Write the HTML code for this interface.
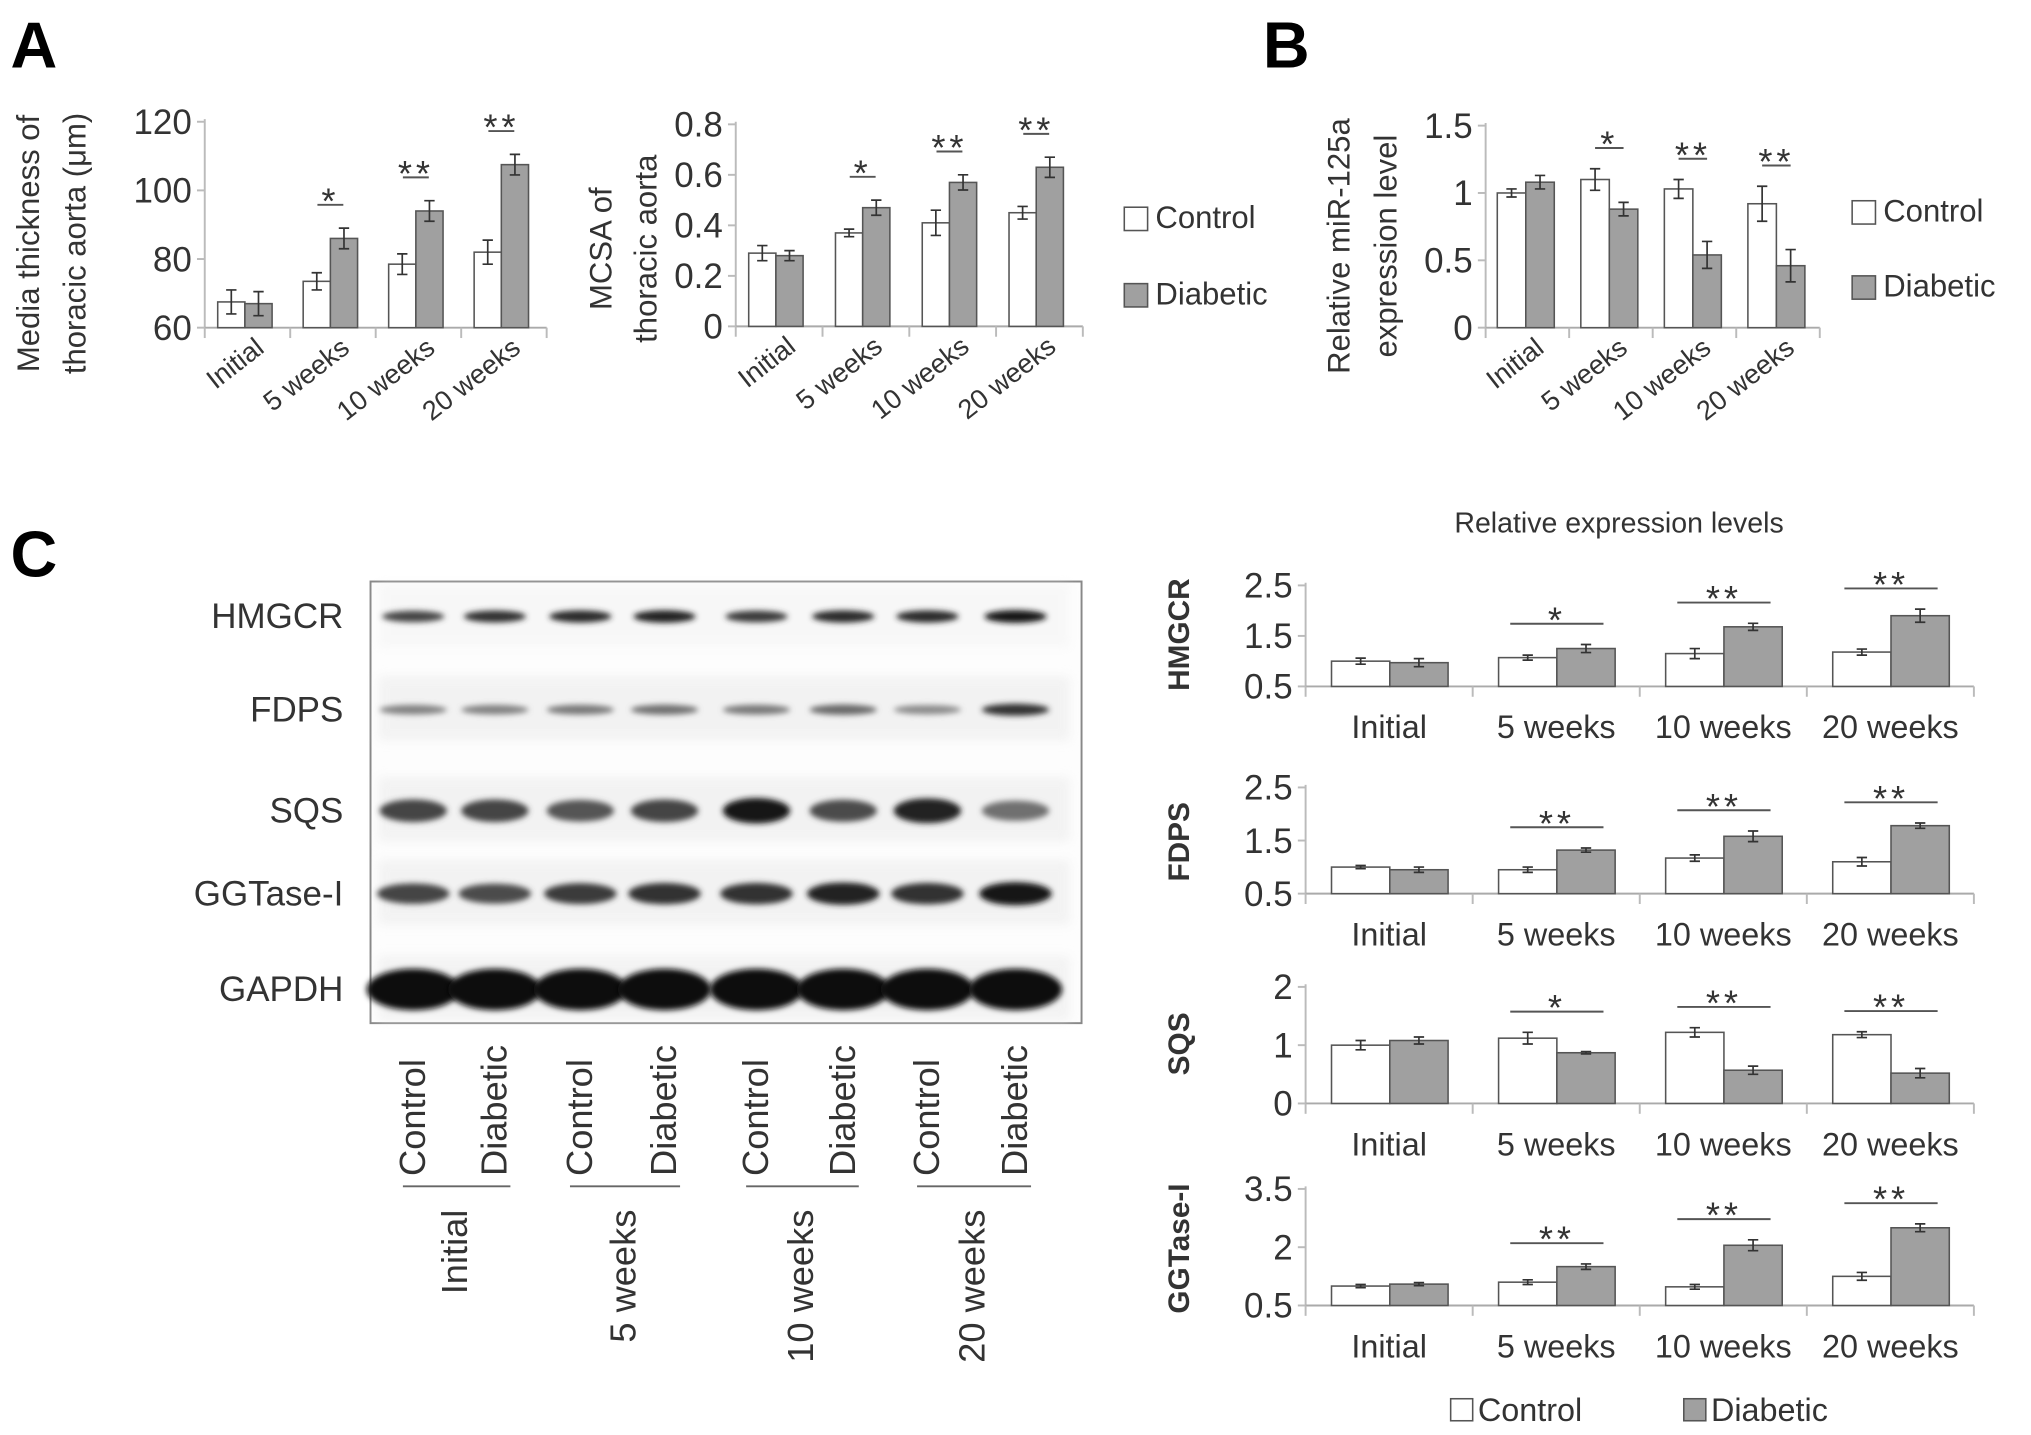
<!DOCTYPE html>
<html><head><meta charset="utf-8">
<style>
html,body{margin:0;padding:0;background:#fff;}
svg{display:block;}
text{font-family:"Liberation Sans Narrow","Liberation Sans",sans-serif;fill:#333;}
.lbl{font-family:"Liberation Sans",sans-serif;}
</style></head>
<body>
<svg id="fig" width="2031" height="1435" viewBox="0 0 1568 1108" xmlns="http://www.w3.org/2000/svg">
<defs>
<filter id="blur" x="-30%" y="-100%" width="160%" height="300%"><feGaussianBlur stdDeviation="2.2"/></filter>
<filter id="blur2" x="-10%" y="-50%" width="120%" height="200%"><feGaussianBlur stdDeviation="4"/></filter>
</defs>
<text x="8" y="52" font-size="50" font-weight="bold" class="lbl" style="fill:#000">A</text>
<text x="975" y="52" font-size="50" font-weight="bold" class="lbl" style="fill:#000">B</text>
<text x="8" y="445" font-size="50" font-weight="bold" class="lbl" style="fill:#000">C</text>
<g id="root"></g>
</svg>
<script>
// ---- data ----
const categories = ["Initial","5 weeks","10 weeks","20 weeks"];
const mediaCtrl = [67.5,73.5,78.5,82];
const mediaDiab = [67,86,94,107.5];
const mediaCtrlErr = [3.5,2.5,3,3.5];
const mediaDiabErr = [3.5,3,3,3];
const mediaStars = ["","*","**","**"];
const mediaTicks = [60,80,100,120];

const mcsaCtrl = [0.29,0.37,0.41,0.45];
const mcsaDiab = [0.28,0.47,0.57,0.63];
const mcsaCtrlErr = [0.03,0.015,0.05,0.025];
const mcsaDiabErr = [0.02,0.03,0.03,0.04];
const mcsaStars = ["","*","**","**"];
const mcsaTicks = [0,0.2,0.4,0.6,0.8];

const mirCtrl = [1.0,1.1,1.03,0.92];
const mirDiab = [1.08,0.88,0.54,0.46];
const mirCtrlErr = [0.03,0.08,0.07,0.13];
const mirDiabErr = [0.05,0.05,0.1,0.12];
const mirStars = ["","*","**","**"];
const mirTicks = [0,0.5,1,1.5];

const hmgcrCtrl = [1.0,1.07,1.15,1.18];
const hmgcrDiab = [0.97,1.25,1.68,1.9];
const hmgcrCtrlErr = [0.06,0.05,0.1,0.06];
const hmgcrDiabErr = [0.08,0.08,0.07,0.13];
const hmgcrStars = ["","*","**","**"];
const hmgcrTicks = [0.5,1.5,2.5];

const fdpsCtrl = [1.0,0.95,1.17,1.1];
const fdpsDiab = [0.95,1.32,1.58,1.78];
const fdpsCtrlErr = [0.03,0.05,0.06,0.08];
const fdpsDiabErr = [0.05,0.04,0.1,0.05];
const fdpsStars = ["","**","**","**"];
const fdpsTicks = [0.5,1.5,2.5];

const sqsCtrl = [1.0,1.12,1.22,1.18];
const sqsDiab = [1.08,0.87,0.57,0.52];
const sqsCtrlErr = [0.08,0.1,0.08,0.05];
const sqsDiabErr = [0.06,0.02,0.07,0.08];
const sqsStars = ["","*","**","**"];
const sqsTicks = [0,1,2];

const ggtCtrl = [1.0,1.1,0.98,1.25];
const ggtDiab = [1.05,1.5,2.05,2.5];
const ggtCtrlErr = [0.04,0.06,0.06,0.1];
const ggtDiabErr = [0.04,0.07,0.14,0.1];
const ggtStars = ["","**","**","**"];
const ggtTicks = [0.5,2,3.5];

const blotRows = ["HMGCR","FDPS","SQS","GGTase-I","GAPDH"];
const laneLabels = ["Control","Diabetic","Control","Diabetic","Control","Diabetic","Control","Diabetic"];
const hmgcrBand = [0.7,0.8,0.85,0.9,0.75,0.85,0.85,0.95];
const fdpsBand = [0.35,0.35,0.4,0.45,0.4,0.5,0.3,0.8];
const sqsBand = [0.7,0.7,0.6,0.7,0.95,0.65,0.9,0.45];
const ggtBand = [0.7,0.65,0.75,0.8,0.8,0.9,0.8,0.98];
const gapdhBand = [1,1,1,1,1,1,1,1];

// ---- helpers ----
const NS="http://www.w3.org/2000/svg";
const root=document.getElementById('root');
function mk(tag,attrs,parent,text){const e=document.createElementNS(NS,tag);for(const k in attrs)e.setAttribute(k,attrs[k]);if(text!==undefined)e.textContent=text;(parent||root).appendChild(e);return e;}

function chart(o){
  const g=mk('g',{});
  
  
  const y=v=>o.base-(v-o.vmin)/(o.vmax-o.vmin)*(o.base-o.top);
  const cw=o.catW;
  const ax=mk('line',{x1:o.x0,y1:o.top-2,x2:o.x0,y2:o.base,stroke:'#bbb','stroke-width':1.5},g);
  
  
  const bx=mk('line',{x1:o.x0,y1:o.base,x2:o.x0+cw*4,y2:o.base,stroke:'#aaa','stroke-width':1.5},g);
  
  
  for(let i=0;i<=4;i++) mk('line',{x1:o.x0+cw*i,y1:o.base,x2:o.x0+cw*i,y2:o.base+8,stroke:'#bbb','stroke-width':1.5},g);
  o.ticks.forEach(t=>{
    mk('line',{x1:o.x0-6,y1:y(t),x2:o.x0,y2:y(t),stroke:'#bbb','stroke-width':1.5},g);
    const tl=mk('text',{x:o.x0-10,y:y(t)+o.tfs*0.35,'text-anchor':'end','font-size':o.tfs},g,String(t));
    
    
  });
  for(let i=0;i<4;i++){
    const gx=o.x0+cw*i+o.off;
    [[o.ctrl,o.ctrlErr,'#fff',0],[o.diab,o.diabErr,'#a0a0a0',1]].forEach(([arr,err,fill,k])=>{
      const bxl=gx+k*o.bw, v=arr[i];
      const r=mk('rect',{x:bxl,y:y(v),width:o.bw,height:o.base-y(v),fill:fill,stroke:'#555','stroke-width':1.2},g);
      
      
      const cx=bxl+o.bw/2, e=err[i];
      mk('path',{d:`M${cx},${y(v+e)}V${y(v-e)}M${cx-4},${y(v+e)}H${cx+4}M${cx-4},${y(v-e)}H${cx+4}`,stroke:'#333','stroke-width':1.3,fill:'none'},g);
    });
    if(o.stars[i]){
      const top=Math.max(o.ctrl[i]+o.ctrlErr[i],o.diab[i]+o.diabErr[i]);
      const ly=y(top)-o.gap;
      const lw=o.lineW;
      const cx=gx+o.bw;
      mk('line',{x1:cx-lw/2,y1:ly,x2:cx+lw/2,y2:ly,stroke:'#555','stroke-width':1.5},g);
      const st=mk('text',{x:cx,y:ly-6+o.sfs*0.45,'text-anchor':'middle','font-size':o.sfs,'letter-spacing':3},g,o.stars[i]);
      
      
    }
    const cx=o.x0+cw*i+cw/2;
    let cl;
    if(o.rot){
      cl=mk('text',{x:cx+14,y:o.base+18,'text-anchor':'end','font-size':o.cfs,transform:`rotate(-38 ${cx+14} ${o.base+18})`,class:'lbl'},g,categories[i]);
    } else {
      cl=mk('text',{x:cx,y:o.base+o.catDy,'text-anchor':'middle','font-size':o.cfs},g,categories[i]);
    }
    
    
  }
  return g;
}
function ylabel(lines,x,cy,fs,name,bold){
  lines.forEach((s,i)=>{
    const t=mk('text',{x:x[i],y:cy,'text-anchor':'middle','font-size':fs,transform:`rotate(-90 ${x[i]} ${cy})`,class:'lbl','font-weight':bold?'bold':'normal'},root,s);
    
    
  });
}
function legend(x,y1,y2,sz,fs){
  [['Control','#fff',y1],['Diabetic','#a0a0a0',y2]].forEach(([n,f,yy])=>{
    const r=mk('rect',{x:x,y:yy-sz+2,width:sz,height:sz,fill:f,stroke:'#555','stroke-width':1.2});
    
    
    const t=mk('text',{x:x+sz+6,y:yy,'font-size':fs,class:'lbl'},root,n);
    
    
  });
}

// ---- Panel A & B ----
chart({name:'media-thickness-chart',x0:158,base:253,top:94,vmin:60,vmax:120,ticks:mediaTicks,catW:66,bw:21,off:10,ctrl:mediaCtrl,diab:mediaDiab,ctrlErr:mediaCtrlErr,diabErr:mediaDiabErr,stars:mediaStars,tfs:27,sfs:28,cfs:21,gap:18,lineW:20,rot:true});
ylabel(['Media thickness of','thoracic aorta (μm)'],[30,66],188,24,'y-axis-title');
chart({name:'mcsa-chart',x0:568,base:252,top:96,vmin:0,vmax:0.8,ticks:mcsaTicks,catW:67,bw:21,off:10,ctrl:mcsaCtrl,diab:mcsaDiab,ctrlErr:mcsaCtrlErr,diabErr:mcsaDiabErr,stars:mcsaStars,tfs:27,sfs:28,cfs:21,gap:18,lineW:20,rot:true});
ylabel(['MCSA of','thoracic aorta'],[472,507],192,24,'y-axis-title');
legend(868,176,235,18,24);
chart({name:'mir125a-chart',x0:1147,base:253,top:97,vmin:0,vmax:1.5,ticks:mirTicks,catW:64.5,bw:22,off:9,ctrl:mirCtrl,diab:mirDiab,ctrlErr:mirCtrlErr,diabErr:mirDiabErr,stars:mirStars,tfs:27,sfs:28,cfs:21,gap:16,lineW:22,rot:true});
ylabel(['Relative miR-125a','expression level'],[1042,1078],190,24,'y-axis-title');
legend(1430,171,229,18,24);

// ---- Panel C right charts ----
const tt=mk('text',{x:1250,y:411,'text-anchor':'middle','font-size':22,class:'lbl'},root,'Relative expression levels');


const cOpts={x0:1008,catW:129,bw:45,off:20,tfs:27,sfs:28,cfs:25,gap:16,lineW:72,catDy:40};
chart(Object.assign({},cOpts,{name:'hmgcr-chart',base:530,top:452,vmin:0.5,vmax:2.5,ticks:hmgcrTicks,ctrl:hmgcrCtrl,diab:hmgcrDiab,ctrlErr:hmgcrCtrlErr,diabErr:hmgcrDiabErr,stars:hmgcrStars}));
ylabel(['HMGCR'],[918],490,23,'y-axis-title',true);
chart(Object.assign({},cOpts,{name:'fdps-chart',base:690,top:608,vmin:0.5,vmax:2.5,ticks:fdpsTicks,ctrl:fdpsCtrl,diab:fdpsDiab,ctrlErr:fdpsCtrlErr,diabErr:fdpsDiabErr,stars:fdpsStars}));
ylabel(['FDPS'],[918],650,23,'y-axis-title',true);
chart(Object.assign({},cOpts,{name:'sqs-chart',base:852,top:762,vmin:0,vmax:2,ticks:sqsTicks,ctrl:sqsCtrl,diab:sqsDiab,ctrlErr:sqsCtrlErr,diabErr:sqsDiabErr,stars:sqsStars}));
ylabel(['SQS'],[918],806,23,'y-axis-title',true);
chart(Object.assign({},cOpts,{name:'ggtase-chart',base:1008,top:918,vmin:0.5,vmax:3.5,ticks:ggtTicks,ctrl:ggtCtrl,diab:ggtDiab,ctrlErr:ggtCtrlErr,diabErr:ggtDiabErr,stars:ggtStars}));
ylabel(['GGTase-I'],[918],964,23,'y-axis-title',true);
[['Control','#fff',1120],['Diabetic','#a0a0a0',1300]].forEach(([n,f,x])=>{
  const r=mk('rect',{x:x,y:1080,width:17,height:17,fill:f,stroke:'#555','stroke-width':1.2});
  
  
  const t=mk('text',{x:x+21,y:1097,'font-size':25},root,n);
  
  
});

// ---- Western blot ----
const blot=mk('g',{});


mk('rect',{x:286,y:449,width:549,height:341,fill:'#fdfdfd',stroke:'#888','stroke-width':1.5},blot);
const rowY=[476,548,626,690,764];
const rowH=[5,5,10,9,16];
const rowW=[24,26,26,28,36];
const bands=[hmgcrBand,fdpsBand,sqsBand,ggtBand,gapdhBand];
const laneX=[319,382,448,513,584,651,716,784];
rowY.forEach((ry,ri)=>{
  mk('rect',{x:292,y:ry-26,width:534,height:50,fill:'#ececec',opacity:ri===0?0.3:0.6,filter:'url(#blur2)'},blot);
  const lt=mk('text',{x:265,y:ry+9,'text-anchor':'end','font-size':27},root,blotRows[ri]);
  
  
  laneX.forEach((lx,li)=>{
    const v=bands[ri][li];
    const c=Math.round(190-175*v);
    const e=mk('ellipse',{cx:lx,cy:ry,rx:rowW[ri],ry:rowH[ri]*(0.6+0.4*v),fill:`rgb(${c},${c},${c})`,filter:'url(#blur)'},blot);
    
    
  });
});
laneLabels.forEach((s,i)=>{
  const x=laneX[i]+9, yy=908;
  const t=mk('text',{x:x,y:yy,'font-size':28,transform:`rotate(-90 ${x} ${yy})`},root,s);
  
  
});
for(let gi=0;gi<4;gi++){
  const x1=laneX[gi*2]-8,x2=laneX[gi*2+1]+12;
  mk('line',{x1:x1,y1:916,x2:x2,y2:916,stroke:'#666','stroke-width':1.5});
  const x=(laneX[gi*2]+laneX[gi*2+1])/2+10, yy=934;
  const t=mk('text',{x:x,y:yy,'font-size':28,'text-anchor':'end',transform:`rotate(-90 ${x} ${yy})`},root,categories[gi]);
  
  
}
</script>
</body></html>
